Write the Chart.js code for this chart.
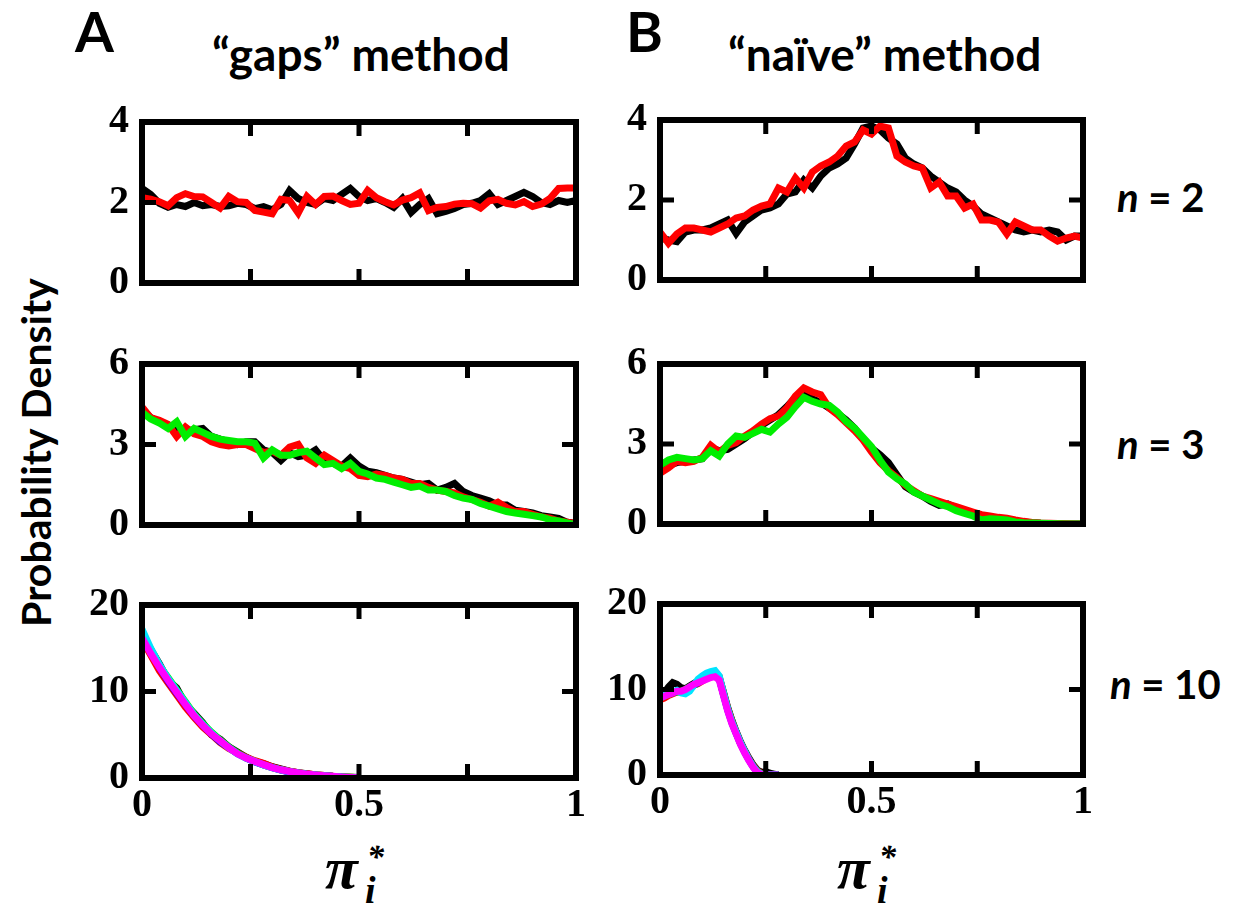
<!DOCTYPE html>
<html>
<head>
<meta charset="utf-8">
<script src="https://cdn.jsdelivr.net/npm/chart.js@4.4.0/dist/chart.umd.min.js"></script>
<style>
  body { margin: 0; background: #fff; width: 1239px; height: 905px; position: relative; overflow: hidden; }
  canvas { position: absolute; }
  .lbl { position: absolute; font-family: Lato, 'Open Sans', sans-serif; font-weight: 700; color: #000; white-space: nowrap; line-height: 1; }
  .pi { position: absolute; font-family: 'Liberation Serif', serif; font-weight: bold; font-style: italic; color: #000; }
  .pi .p { position: absolute; left: 0; top: 0; font-size: 60px; line-height: 60px; }
  .pi .sup { position: absolute; left: 42px; top: 2px; font-size: 34px; line-height: 34px; }
  .pi .sub { position: absolute; left: 40px; top: 33px; font-size: 38px; line-height: 38px; }
</style>
</head>
<body>
<div class="lbl" style="left:75px;top:3px;font-size:56px">A</div>
<div class="lbl" style="left:212px;top:31px;font-size:46px">“gaps” method</div>
<div class="lbl" style="left:626px;top:3px;font-size:56px">B</div>
<div class="lbl" style="left:728px;top:31px;font-size:46px">“naïve” method</div>
<div class="lbl" style="left:-165px;top:432px;width:400px;text-align:center;font-size:41px;transform:rotate(-90deg)">Probability Density</div>
<div class="lbl" style="left:1117px;top:177px;font-size:40px"><i>n</i> = 2</div>
<div class="lbl" style="left:1117px;top:424px;font-size:40px"><i>n</i> = 3</div>
<div class="lbl" style="left:1110px;top:664px;font-size:40px"><i>n</i> = 10</div>
<div class="pi" style="left:325px;top:838px"><span class="p">π</span><span class="sup">*</span><span class="sub">i</span></div>
<div class="pi" style="left:837px;top:838px"><span class="p">π</span><span class="sup">*</span><span class="sub">i</span></div>

<script>
// x grids
const xGrid = [0,0.02,0.04,0.06,0.08,0.1,0.12,0.14,0.16,0.18,0.2,0.22,0.24,0.26,0.28,0.3,0.32,0.34,0.36,0.38,0.4,
  0.42,0.44,0.46,0.48,0.5,0.52,0.54,0.56,0.58,0.6,0.62,0.64,0.66,0.68,0.7,0.72,0.74,0.76,0.78,0.8,
  0.82,0.84,0.86,0.88,0.9,0.92,0.94,0.96,0.98,1];
const xGapsN10 = [0,0.02,0.04,0.06,0.08,0.1,0.12,0.14,0.16,0.18,0.2,0.22,0.24,0.26,0.28,0.3,0.32,0.34,0.36,0.38,0.4,
  0.42,0.44,0.46,0.48,0.5];
const xNaiveN10 = [0,0.01,0.02,0.03,0.04,0.05,0.06,0.07,0.08,0.09,0.1,0.11,0.12,0.13,0.14,0.15,0.16,0.17,0.18,0.19,0.2,
  0.21,0.22,0.23,0.24,0.25,0.26,0.27,0.28];

const xTickLabels = [0, 0.5, 1];

// n = 2
const gapsN2Black = [2.35,2.2,1.98,1.88,1.95,1.9,2.0,1.92,1.95,1.9,1.92,1.98,1.95,1.85,1.9,1.82,1.95,2.3,2.1,2.0,1.95,2.1,2.05,2.2,2.35,2.15,2.05,2.1,2.0,1.88,2.1,1.75,1.95,2.1,1.72,1.78,1.85,1.95,1.98,2.05,2.22,1.95,2.05,2.15,2.25,2.15,2.0,1.95,2.05,2.0,2.05];
const gapsN2Red = [2.12,2.08,2.02,1.92,2.12,2.22,2.15,2.14,2.0,1.86,2.15,2.02,2.0,1.8,1.76,1.72,2.08,2.05,1.74,2.15,1.95,2.15,2.16,2.05,1.95,1.98,2.3,2.12,2.02,1.94,2.06,2.12,2.24,1.8,1.88,1.9,1.96,1.98,1.97,1.86,2.04,2.08,1.98,1.94,2.02,1.9,1.96,2.1,2.35,2.36,2.36];
const naiveN2Black = [1.05,1.0,0.96,1.2,1.25,1.25,1.3,1.4,1.5,1.16,1.45,1.6,1.75,1.8,1.9,2.15,2.2,2.5,2.3,2.6,2.8,2.9,3.05,3.4,3.8,3.85,3.75,3.55,3.4,3.05,2.9,2.8,2.6,2.45,2.3,2.2,2.0,1.85,1.65,1.55,1.45,1.35,1.25,1.2,1.25,1.2,1.25,1.2,1.0,1.1,1.1];
const naiveN2Red = [1.2,0.92,1.15,1.3,1.3,1.25,1.2,1.3,1.4,1.55,1.6,1.75,1.85,1.9,2.3,2.2,2.55,2.3,2.7,2.85,2.95,3.1,3.35,3.45,3.75,3.65,3.85,3.8,3.1,2.95,2.85,2.8,2.3,2.45,2.1,2.1,1.8,1.9,1.5,1.5,1.45,1.15,1.45,1.35,1.25,1.25,1.1,0.97,1.05,1.1,1.05];

// n = 3
const gapsN3Black = [4.3,4.0,3.85,3.7,3.5,3.5,3.55,3.6,3.3,3.2,3.1,3.0,3.1,3.1,2.8,2.7,2.4,2.7,2.55,2.6,2.8,2.4,2.3,2.2,2.5,2.2,2.0,1.95,1.85,1.75,1.7,1.6,1.5,1.55,1.3,1.4,1.55,1.25,1.1,1.0,0.9,0.75,0.75,0.55,0.5,0.45,0.35,0.3,0.25,0.1,0.05];
const gapsN3Red = [4.4,4.0,3.9,3.75,3.3,3.65,3.4,3.3,3.1,3.0,2.95,3.0,3.0,2.85,2.7,2.75,2.6,2.9,3.0,2.5,2.3,2.6,2.4,2.2,2.1,1.85,1.8,1.9,1.85,1.75,1.7,1.55,1.55,1.4,1.3,1.25,1.2,1.05,0.95,0.85,0.7,0.85,0.65,0.5,0.5,0.4,0.3,0.25,0.15,0.1,0.05];
const gapsN3Green = [4.2,3.95,3.8,3.6,3.85,3.3,3.6,3.45,3.3,3.2,3.15,3.1,3.1,3.05,2.5,2.8,2.6,2.6,2.7,2.75,2.5,2.25,2.3,2.1,2.3,2.0,1.9,1.75,1.7,1.6,1.5,1.4,1.45,1.3,1.3,1.25,1.1,1.0,0.95,0.8,0.7,0.6,0.5,0.45,0.4,0.35,0.3,0.2,0.15,0.08,0.02];
const naiveN3Black = [2.0,2.2,2.3,2.35,2.4,2.45,2.85,2.75,2.8,3.0,3.2,3.45,3.7,3.9,4.1,4.4,4.75,4.95,4.7,4.55,4.35,4.15,3.9,3.6,3.2,2.85,2.6,2.3,1.85,1.4,1.2,1.05,0.85,0.7,0.75,0.6,0.5,0.4,0.3,0.2,0.2,0.15,0.1,0.08,0.05,0.03,0.02,0.01,0.0,0.0,0.0];
const naiveN3Red = [1.9,2.1,2.35,2.3,2.35,2.5,2.95,2.7,2.95,3.05,3.3,3.5,3.75,3.95,4.05,4.35,4.8,5.1,4.95,4.85,4.35,4.1,3.8,3.5,3.15,2.7,2.3,2.0,1.75,1.45,1.25,1.05,0.95,0.85,0.75,0.65,0.55,0.45,0.35,0.3,0.25,0.22,0.15,0.1,0.06,0.04,0.03,0.02,0.01,0.0,0.0];
const naiveN3Green = [2.2,2.4,2.5,2.45,2.4,2.45,2.75,2.55,3.0,3.3,3.25,3.4,3.55,3.45,3.75,4.0,4.4,4.75,4.6,4.5,4.45,4.2,3.85,3.6,3.25,2.9,2.4,1.95,1.7,1.5,1.2,1.05,0.9,0.75,0.65,0.5,0.4,0.3,0.15,0.2,0.18,0.15,0.08,0.05,0.04,0.03,0.02,0.01,0.0,0.0,0.0];

// n = 10
const gapsN10Black = [15.6,14.9,13.2,11.3,10.4,8.5,7.5,6.4,5.0,4.5,3.6,3.0,2.4,1.9,1.65,1.3,1.05,0.8,0.62,0.5,0.36,0.3,0.2,0.15,0.1,0.05];
const gapsN10Red = [16.0,14.2,12.4,11.0,9.6,8.2,7.0,5.9,5.0,4.1,3.4,2.9,2.4,2.0,1.7,1.3,1.0,0.8,0.62,0.48,0.38,0.3,0.2,0.13,0.08,0.04];
const gapsN10Green = [16.3,14.8,13.0,11.6,10.2,8.8,7.4,6.3,5.3,4.4,3.6,2.9,2.3,1.9,1.5,1.2,0.95,0.72,0.56,0.43,0.33,0.25,0.18,0.12,0.08,0.05];
const gapsN10Blue = [16.9,14.8,12.8,11.2,9.8,8.5,7.2,6.1,5.1,4.2,3.5,2.8,2.3,1.85,1.5,1.2,0.9,0.7,0.55,0.42,0.32,0.24,0.17,0.1,0.06,0.02];
const gapsN10Cyan = [17.2,15.0,13.1,11.5,10.1,8.7,7.3,6.2,5.2,4.3,3.5,2.8,2.3,1.9,1.5,1.2,0.95,0.74,0.57,0.44,0.34,0.25,0.18,0.11,0.06,0.02];
const gapsN10Magenta = [16.2,14.4,12.8,11.3,9.9,8.5,7.2,6.1,5.1,4.3,3.5,2.8,2.3,1.9,1.55,1.2,0.95,0.75,0.58,0.45,0.35,0.26,0.19,0.12,0.07,0.03];
const naiveN10Black = [9.2,9.6,10.3,10.8,10.6,10.2,10.1,10.4,10.7,11.0,11.3,11.5,11.7,11.8,11.4,9.7,7.9,6.4,5.1,3.9,2.9,2.0,1.2,0.6,0.3,0.4,0.2,0.1,0];
const naiveN10Red = [8.8,9.0,9.3,9.5,9.7,9.8,9.9,10.2,10.5,10.7,11.0,11.3,11.6,11.8,11.5,9.6,7.8,6.3,5.0,3.8,2.8,1.9,1.1,0.5,0.15,0.05,0,0,0];
const naiveN10Green = [9.0,9.2,9.4,9.6,9.7,9.8,10.0,10.3,10.5,10.8,11.1,11.4,11.6,11.7,11.3,9.5,7.7,6.2,4.9,3.7,2.7,1.8,1.0,0.4,0.1,0,0,0,0];
const naiveN10Blue = [9.1,9.3,9.5,9.6,9.8,9.7,9.9,10.2,10.5,10.8,11.1,11.3,11.5,11.7,11.3,9.4,7.6,6.1,4.9,3.7,2.7,1.8,1.0,0.35,0.08,0,0,0,0];
const naiveN10Cyan = [9.3,9.5,9.6,9.7,9.9,9.6,9.5,9.8,10.5,11.2,11.6,11.9,12.1,12.2,11.6,9.6,7.7,6.2,5.0,3.8,2.8,1.8,1.0,0.4,0.1,0,0,0,0];
const naiveN10Magenta = [9.0,9.2,9.4,9.6,9.8,9.8,10.0,10.3,10.6,10.8,11.0,11.2,11.4,11.5,11.1,9.3,7.5,6.0,4.8,3.6,2.6,1.7,0.9,0.3,0.05,0,0,0,0];

const BLACK = '#000000', RED = '#ff0000', GREEN = '#00ee00', BLUE = '#0000ff', CYAN = '#00e5ff', MAGENTA = '#ff00ff';

// frame with inward ticks, drawn over the data
const framePlugin = {
    id: 'frame',
    afterDatasetsDraw(chart) {
        const { ctx, chartArea: a, scales } = chart;
        const len = 14;
        ctx.save();
        ctx.strokeStyle = '#000';
        ctx.lineCap = 'butt';
        ctx.lineWidth = 5;
        ctx.beginPath();
        scales.x.ticks.forEach(t => {
            if (t.value <= scales.x.min || t.value >= scales.x.max) return;
            const px = scales.x.getPixelForValue(t.value);
            ctx.moveTo(px, a.top); ctx.lineTo(px, a.top + len);
            ctx.moveTo(px, a.bottom); ctx.lineTo(px, a.bottom - len);
        });
        scales.y.ticks.forEach(t => {
            if (t.value <= scales.y.min || t.value >= scales.y.max) return;
            const py = scales.y.getPixelForValue(t.value);
            ctx.moveTo(a.left, py); ctx.lineTo(a.left + len, py);
            ctx.moveTo(a.right, py); ctx.lineTo(a.right - len, py);
        });
        ctx.stroke();
        ctx.lineWidth = 6;
        ctx.strokeRect(a.left, a.top, a.right - a.left, a.bottom - a.top);
        ctx.restore();
    }
};

function drawPanel(p) {
    const [l, t, r, b] = p.box;
    const padL = 100, padT = 30, padR = 30, padB = p.showX ? 75 : 30;
    const c = document.createElement('canvas');
    c.width = r - l + padL + padR;
    c.height = b - t + padT + padB;
    c.style.left = (l - padL) + 'px';
    c.style.top = (t - padT) + 'px';
    document.body.appendChild(c);

    const serif = "'Liberation Serif', 'Times New Roman', serif";

    new Chart(c, {
        type: 'line',
        data: {
            datasets: p.series.map((s, i) => ({
                data: p.xs.map((x, k) => ({ x: x, y: s[1][k] })),
                borderColor: s[0],
                borderWidth: 7,
                pointRadius: 0,
                tension: 0,
                fill: false,
                order: p.series.length - i
            }))
        },
        options: {
            responsive: false,
            animation: false,
            events: [],
            layout: { padding: { left: 0, top: padT, right: padR, bottom: p.showX ? 0 : padB } },
            plugins: { legend: { display: false }, tooltip: { enabled: false } },
            scales: {
                x: {
                    type: 'linear',
                    min: 0,
                    max: 1,
                    grid: { display: false, drawTicks: false },
                    border: { display: false },
                    ticks: {
                        display: p.showX,
                        stepSize: 0.25,
                        autoSkip: false,
                        maxRotation: 0,
                        padding: 4,
                        color: '#000',
                        font: { family: serif, weight: 'bold', size: 40 },
                        callback: v => xTickLabels.includes(v) ? String(v) : ''
                    },
                    afterFit: s => { s.height = p.showX ? padB : 0; }
                },
                y: {
                    min: 0,
                    max: p.yMax,
                    grid: { display: false, drawTicks: false },
                    border: { display: false },
                    ticks: {
                        stepSize: p.yStep,
                        padding: 13,
                        color: '#000',
                        font: { family: serif, weight: 'bold', size: 40 },
                        callback: v => p.yLabels.includes(v) ? String(v) : ''
                    },
                    afterFit: s => { s.width = padL; }
                }
            }
        },
        plugins: [framePlugin]
    });
}

document.addEventListener('DOMContentLoaded', () => {
    const panels = [
        { box: [142, 115, 576, 290], yMax: 4, yStep: 1, yLabels: [0, 2, 4], showX: false, xs: xGrid,
          series: [[BLACK, gapsN2Black], [RED, gapsN2Red]] },
        { box: [660, 113, 1083, 287], yMax: 4, yStep: 1, yLabels: [0, 2, 4], showX: false, xs: xGrid,
          series: [[BLACK, naiveN2Black], [RED, naiveN2Red]] },
        { box: [142, 357, 576, 532], yMax: 6, yStep: 1.5, yLabels: [0, 3, 6], showX: false, xs: xGrid,
          series: [[BLACK, gapsN3Black], [RED, gapsN3Red], [GREEN, gapsN3Green]] },
        { box: [660, 357, 1083, 531], yMax: 6, yStep: 1.5, yLabels: [0, 3, 6], showX: false, xs: xGrid,
          series: [[BLACK, naiveN3Black], [RED, naiveN3Red], [GREEN, naiveN3Green]] },
        { box: [142, 598, 576, 778], yMax: 20, yStep: 5, yLabels: [0, 10, 20], showX: true, xs: xGapsN10,
          series: [[BLACK, gapsN10Black], [RED, gapsN10Red], [GREEN, gapsN10Green], [BLUE, gapsN10Blue], [CYAN, gapsN10Cyan], [MAGENTA, gapsN10Magenta]] },
        { box: [660, 597, 1083, 775], yMax: 20, yStep: 5, yLabels: [0, 10, 20], showX: true, xs: xNaiveN10,
          series: [[BLACK, naiveN10Black], [RED, naiveN10Red], [GREEN, naiveN10Green], [BLUE, naiveN10Blue], [CYAN, naiveN10Cyan], [MAGENTA, naiveN10Magenta]] }
    ];
    panels.forEach(drawPanel);
});
</script>
</body>
</html>
